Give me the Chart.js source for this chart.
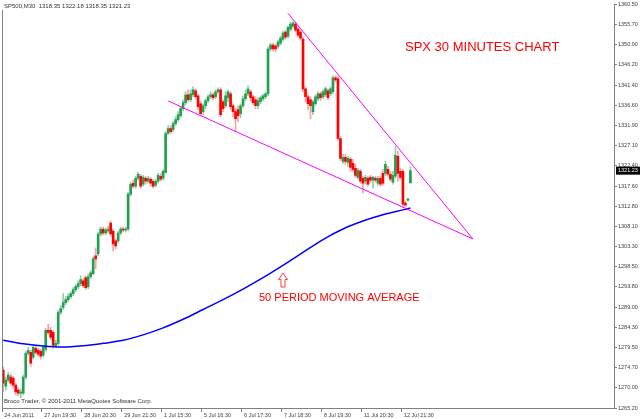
<!DOCTYPE html>
<html>
<head>
<meta charset="utf-8">
<script src="https://cdn.jsdelivr.net/npm/chart.js@4"></script>
<style>
  html, body { margin: 0; padding: 0; background: #fff; }
  canvas { display: block; }
</style>
</head>
<body>
<canvas id="chart" width="640" height="419"></canvas>
<script>
const symbol = "SP500,M30";
const slotCount = 245;   // bars that fit across the plot, data fills the first part
const tickEvery = 16;

const xTickLabels = [
  "24 Jun 2011", "27 Jun 19:30", "28 Jun 20:30", "29 Jun 21:30", "1 Jul 15:30",
  "5 Jul 16:30", "6 Jul 17:30", "7 Jul 18:30", "8 Jul 19:30", "11 Jul 20:30", "12 Jul 21:30",
];
const yTickValues = [
  1360.5, 1355.7, 1350.9, 1346.2, 1341.4, 1336.6, 1331.9, 1327.1, 1322.4, 1317.6, 1312.8,
  1308.1, 1303.3, 1298.5, 1293.8, 1289.0, 1284.3, 1279.5, 1274.7, 1270.0, 1265.2,
];

const open = [
  1274.13, 1270.37, 1271.78, 1272.49, 1272.25, 1270.61, 1269.44, 1268.73, 1268.73, 1272.49,
  1278.12, 1278.35, 1277.18, 1279.29, 1278.82, 1278.59, 1277.65, 1279.06, 1283.52, 1283.52,
  1283.05, 1280.00, 1280.47, 1287.74, 1288.92, 1290.09, 1290.80, 1291.50, 1292.20, 1293.14,
  1293.85, 1294.55, 1295.25, 1295.96, 1293.85, 1296.19, 1296.90, 1301.12, 1301.59, 1306.28,
  1307.46, 1306.52, 1306.99, 1308.87, 1306.99, 1304.64, 1304.64, 1306.52, 1307.46, 1307.22,
  1307.46, 1315.67, 1318.25, 1317.55, 1319.43, 1319.90, 1318.02, 1319.43, 1318.72, 1319.19,
  1318.72, 1317.78, 1318.72, 1319.90, 1319.43, 1320.84, 1329.99, 1331.16, 1330.93, 1332.34,
  1333.28, 1334.21, 1335.86, 1337.27, 1339.14, 1337.97, 1339.14, 1340.08, 1338.91, 1337.03,
  1335.15, 1336.56, 1337.73, 1338.67, 1339.14, 1338.67, 1339.85, 1340.32, 1337.50, 1336.56,
  1338.44, 1339.38, 1336.56, 1335.15, 1335.62, 1334.68, 1336.56, 1338.20, 1339.38, 1339.85,
  1338.67, 1337.97, 1336.56, 1337.50, 1338.20, 1338.67, 1339.38, 1349.94, 1350.88, 1350.64,
  1350.64, 1351.35, 1352.29, 1353.93, 1352.99, 1354.63, 1355.34, 1355.81, 1354.63, 1353.93,
  1352.29, 1340.55, 1338.67, 1337.97, 1335.15, 1337.03, 1338.20, 1339.38, 1338.67, 1339.14,
  1340.08, 1339.38, 1339.85, 1343.13, 1342.90, 1328.82, 1323.42, 1324.36, 1323.18, 1323.89,
  1322.95, 1321.77, 1319.66, 1321.07, 1319.43, 1318.72, 1319.43, 1319.66, 1318.96, 1319.43,
  1318.25, 1319.43, 1320.60, 1320.60, 1321.54, 1320.37, 1318.49, 1319.90, 1324.59, 1321.07,
  1321.07, 1313.56, 1314.27, 1318.35,
];
const high = [
  1274.84, 1272.49, 1273.66, 1273.19, 1272.72, 1271.08, 1269.90, 1269.67, 1272.96, 1278.59,
  1279.53, 1278.82, 1280.00, 1279.76, 1279.29, 1279.06, 1280.00, 1283.99, 1284.93, 1284.23,
  1283.52, 1281.17, 1288.21, 1289.39, 1292.20, 1291.50, 1292.20, 1292.67, 1293.61, 1294.32,
  1295.25, 1296.43, 1295.72, 1296.43, 1296.90, 1297.60, 1300.89, 1303.00, 1306.75, 1307.93,
  1307.93, 1307.69, 1308.16, 1309.34, 1307.46, 1305.11, 1306.99, 1307.93, 1307.93, 1307.93,
  1316.14, 1318.49, 1318.96, 1319.90, 1320.84, 1320.37, 1320.13, 1319.90, 1319.90, 1319.66,
  1319.19, 1319.19, 1320.60, 1320.60, 1321.54, 1330.46, 1331.87, 1331.87, 1332.81, 1333.98,
  1335.15, 1336.33, 1337.97, 1339.85, 1340.32, 1340.32, 1341.02, 1340.55, 1339.38, 1337.50,
  1337.03, 1338.20, 1339.14, 1339.85, 1339.61, 1340.32, 1340.79, 1340.79, 1337.97, 1339.85,
  1340.32, 1339.85, 1337.03, 1335.86, 1336.56, 1337.03, 1338.91, 1340.32, 1341.25, 1340.32,
  1339.14, 1338.67, 1338.44, 1338.91, 1339.38, 1339.85, 1350.41, 1351.35, 1351.35, 1351.11,
  1352.05, 1352.99, 1354.16, 1354.40, 1355.34, 1356.28, 1356.51, 1356.28, 1355.10, 1354.40,
  1352.76, 1341.02, 1339.38, 1338.67, 1337.97, 1339.14, 1339.85, 1339.85, 1340.32, 1341.02,
  1340.55, 1341.02, 1343.60, 1343.60, 1343.37, 1329.29, 1325.06, 1325.06, 1324.59, 1324.36,
  1323.89, 1322.71, 1321.77, 1321.54, 1319.90, 1320.13, 1319.90, 1320.13, 1319.90, 1319.90,
  1319.90, 1319.90, 1321.54, 1323.42, 1322.24, 1321.07, 1321.07, 1326.94, 1325.77, 1321.77,
  1321.54, 1314.03, 1314.73, 1322.18,
];
const low = [
  1268.97, 1269.44, 1271.31, 1270.61, 1269.90, 1268.26, 1268.03, 1267.56, 1268.26, 1272.02,
  1277.65, 1275.07, 1276.71, 1277.89, 1277.42, 1276.71, 1277.18, 1278.59, 1282.58, 1281.41,
  1279.29, 1279.53, 1280.00, 1287.27, 1288.44, 1289.62, 1290.33, 1291.03, 1291.73, 1292.67,
  1293.38, 1294.08, 1293.61, 1293.14, 1293.38, 1295.72, 1296.66, 1298.07, 1301.12, 1305.82,
  1306.05, 1306.05, 1306.52, 1305.82, 1302.29, 1302.76, 1304.17, 1306.05, 1306.75, 1306.75,
  1306.99, 1315.20, 1317.08, 1317.08, 1318.96, 1317.08, 1317.55, 1318.02, 1318.25, 1317.55,
  1317.08, 1317.31, 1318.25, 1318.72, 1318.96, 1320.60, 1329.76, 1329.99, 1330.46, 1331.87,
  1332.81, 1333.74, 1335.39, 1336.80, 1337.50, 1337.50, 1338.67, 1338.20, 1335.62, 1334.21,
  1334.45, 1335.86, 1337.27, 1338.20, 1337.97, 1338.20, 1339.38, 1333.98, 1335.15, 1336.09,
  1337.50, 1335.62, 1333.98, 1330.46, 1332.81, 1333.74, 1336.09, 1337.73, 1338.91, 1337.73,
  1336.80, 1335.86, 1335.86, 1337.03, 1337.73, 1338.20, 1338.91, 1349.47, 1349.47, 1349.23,
  1350.17, 1350.88, 1351.82, 1352.29, 1352.52, 1354.16, 1354.87, 1353.93, 1352.76, 1352.05,
  1339.85, 1337.50, 1335.62, 1333.51, 1334.45, 1336.56, 1337.73, 1337.73, 1338.20, 1338.67,
  1337.97, 1338.91, 1339.38, 1342.19, 1328.35, 1323.65, 1322.95, 1322.71, 1322.24, 1321.07,
  1321.07, 1319.66, 1319.19, 1318.25, 1315.91, 1318.02, 1317.55, 1318.49, 1317.08, 1318.49,
  1317.78, 1317.55, 1317.78, 1320.13, 1319.90, 1318.72, 1318.02, 1319.43, 1318.72, 1319.19,
  1312.86, 1312.86, 1314.03, 1318.35,
];
const close = [
  1271.08, 1271.78, 1272.96, 1271.08, 1270.61, 1268.97, 1268.73, 1268.97, 1272.49, 1278.12,
  1278.82, 1275.77, 1279.53, 1278.35, 1277.89, 1277.42, 1279.53, 1283.52, 1283.05, 1281.88,
  1280.00, 1280.47, 1287.74, 1288.68, 1290.09, 1290.80, 1291.50, 1292.20, 1293.14, 1293.85,
  1294.55, 1295.49, 1294.08, 1293.61, 1296.19, 1297.13, 1300.42, 1300.42, 1306.28, 1307.46,
  1306.52, 1307.22, 1307.46, 1306.28, 1303.94, 1303.47, 1306.52, 1307.46, 1307.22, 1307.46,
  1315.67, 1318.02, 1317.55, 1319.43, 1320.37, 1317.55, 1319.66, 1318.72, 1319.43, 1318.25,
  1317.55, 1318.72, 1320.13, 1319.19, 1321.07, 1329.99, 1331.16, 1330.46, 1332.34, 1333.28,
  1334.45, 1335.86, 1337.27, 1339.14, 1337.97, 1339.38, 1340.32, 1338.67, 1336.33, 1334.68,
  1336.56, 1337.73, 1338.67, 1339.14, 1338.44, 1339.85, 1340.32, 1334.45, 1335.86, 1338.91,
  1339.85, 1336.33, 1335.15, 1333.51, 1334.21, 1336.56, 1338.20, 1339.38, 1340.55, 1338.44,
  1337.27, 1336.56, 1337.73, 1338.44, 1338.91, 1339.38, 1349.94, 1350.88, 1349.94, 1349.94,
  1351.58, 1352.52, 1353.69, 1352.76, 1355.07, 1355.81, 1356.04, 1354.40, 1353.22, 1352.52,
  1340.55, 1338.67, 1337.03, 1336.56, 1337.50, 1338.67, 1339.38, 1338.44, 1339.85, 1340.55,
  1338.44, 1340.55, 1343.13, 1342.66, 1328.82, 1324.12, 1324.36, 1323.42, 1324.12, 1322.01,
  1321.54, 1320.13, 1321.31, 1318.72, 1318.25, 1319.66, 1318.02, 1318.96, 1319.66, 1318.96,
  1319.43, 1318.02, 1318.25, 1322.71, 1320.37, 1319.19, 1320.13, 1324.83, 1320.60, 1319.66,
  1313.32, 1313.09, 1314.50, 1321.23,
];

// moving average, read every 8th bar
const maBars = [0, 8, 16, 24, 32, 40, 48, 56, 64, 72, 80, 88, 96, 104, 112, 120, 128, 136, 144, 152, 160, 163];
const maValues = [
  1281.17, 1280.35, 1279.81, 1279.58, 1279.88, 1280.47, 1281.17, 1282.46, 1284.11, 1286.15, 1288.45,
  1290.79, 1293.28, 1295.96, 1298.89, 1301.94, 1304.97, 1307.46, 1309.34, 1310.81, 1311.97, 1312.39,
];

// wedge lines: [bar, price]
const upperLine = [[114, 1358.36], [188, 1305.11]];
const lowerLine = [[66, 1337.70], [188, 1305.11]];

const UP = "#22a050";
const DOWN = "#ff0000";

const slotLabels = Array.from({ length: slotCount }, (_, i) =>
  i % tickEvery === 0 && xTickLabels[i / tickEvery] ? xTickLabels[i / tickEvery] : ""
);

function sparse(points) {
  const arr = new Array(slotCount).fill(null);
  points.forEach(([b, v]) => { arr[b] = v; });
  return arr;
}

const isUp = close.map((c, i) => c >= open[i]);
const last = close.length - 1;

const overlay = {
  id: "overlay",
  afterDraw(chart) {
    const { ctx, chartArea: a, scales } = chart;
    ctx.save();
    ctx.strokeStyle = "#808080";
    ctx.lineWidth = 1;
    ctx.beginPath();
    ctx.moveTo(a.left + 0.5, 10);
    ctx.lineTo(a.left + 0.5, a.bottom);
    ctx.stroke();

    ctx.textAlign = "left";
    ctx.textBaseline = "middle";
    ctx.fillStyle = "#333";
    ctx.font = '6px "Liberation Sans"';
    const ohlc = [open[last], high[last], low[last], close[last]].map(v => v.toFixed(2)).join(" ");
    ctx.fillText(symbol + "  " + ohlc, 4, 6);
    ctx.fillText("Broco Trader, \u00a9 2001-2011 MetaQuotes Software Corp.", 4, a.bottom - 7);

    ctx.fillStyle = "#ff0000";
    ctx.font = '13px "Liberation Sans"';
    ctx.fillText("SPX 30 MINUTES CHART", 405, 47);
    ctx.font = '11px "Liberation Sans"';
    ctx.fillText("50 PERIOD MOVING AVERAGE", 259, 297.5);

    // hollow arrow pointing at the average
    ctx.beginPath();
    ctx.moveTo(283, 273);
    ctx.lineTo(287.5, 279.5);
    ctx.lineTo(285, 279.5);
    ctx.lineTo(285, 287);
    ctx.lineTo(281, 287);
    ctx.lineTo(281, 279.5);
    ctx.lineTo(278.5, 279.5);
    ctx.closePath();
    ctx.fillStyle = "#fff";
    ctx.fill();
    ctx.strokeStyle = "#ff4040";
    ctx.stroke();

    // last price tag
    const py = scales.y.getPixelForValue(close[last]);
    ctx.fillStyle = "#000";
    ctx.fillRect(a.right + 2, py - 4, 26, 8);
    ctx.fillStyle = "#fff";
    ctx.font = '5.5px "Liberation Sans"';
    ctx.fillText(close[last].toFixed(2), a.right + 4, py);
    ctx.restore();
  },
};

new Chart(document.getElementById("chart"), {
  type: "bar",
  data: {
    labels: slotLabels,
    datasets: [
      {
        type: "line",
        data: sparse(upperLine),
        borderColor: "#ff00ff",
        borderWidth: 1,
        pointRadius: 0,
        spanGaps: true,
        order: 0,
      },
      {
        type: "line",
        data: sparse(lowerLine),
        borderColor: "#ff00ff",
        borderWidth: 1,
        pointRadius: 0,
        spanGaps: true,
        order: 0,
      },
      {
        type: "line",
        data: sparse(maBars.map((b, k) => [b, maValues[k]])),
        borderColor: "#0000ff",
        borderWidth: 1.5,
        pointRadius: 0,
        spanGaps: true,
        cubicInterpolationMode: "monotone",
        order: 1,
      },
      {
        data: open.map((o, i) => [o, close[i]]),
        backgroundColor: isUp.map(u => (u ? UP : DOWN)),
        barThickness: 2,
        minBarLength: 1,
        grouped: false,
        order: 2,
      },
      {
        data: open.map((_, i) => [low[i], high[i]]),
        backgroundColor: isUp.map(u => (u ? "#8fd0a8" : "#f5a3a3")),
        barThickness: 1,
        grouped: false,
        order: 3,
      },
    ],
  },
  options: {
    responsive: false,
    animation: false,
    layout: { padding: { left: 2, top: 2, right: 0, bottom: 0 } },
    scales: {
      x: {
        offset: true,
        grid: {
          offset: true,
          drawOnChartArea: false,
          tickLength: 4,
          color: c => (slotLabels[c.index] ? "#808080" : "rgba(0,0,0,0)"),
        },
        border: { display: true, color: "#808080" },
        ticks: {
          autoSkip: false,
          maxRotation: 0,
          minRotation: 0,
          align: "start",
          labelOffset: 1,
          padding: 0,
          color: "#404040",
          font: { family: "Liberation Sans", size: 5.5 },
        },
        afterFit: s => { s.height = 11; },
      },
      y: {
        position: "right",
        min: 1265.2,
        max: 1360.5,
        beginAtZero: false,
        afterBuildTicks: s => { s.ticks = yTickValues.map(v => ({ value: v })); },
        grid: { drawOnChartArea: false, tickLength: 3, color: "#808080" },
        border: { display: true, color: "#808080" },
        ticks: {
          padding: 1,
          color: "#404040",
          font: { family: "Liberation Sans", size: 5.5 },
          callback: v => v.toFixed(2),
        },
        afterFit: s => { s.width = 26; },
      },
    },
    plugins: {
      legend: { display: false },
      tooltip: { enabled: false },
    },
  },
  plugins: [overlay],
});
</script>
</body>
</html>
